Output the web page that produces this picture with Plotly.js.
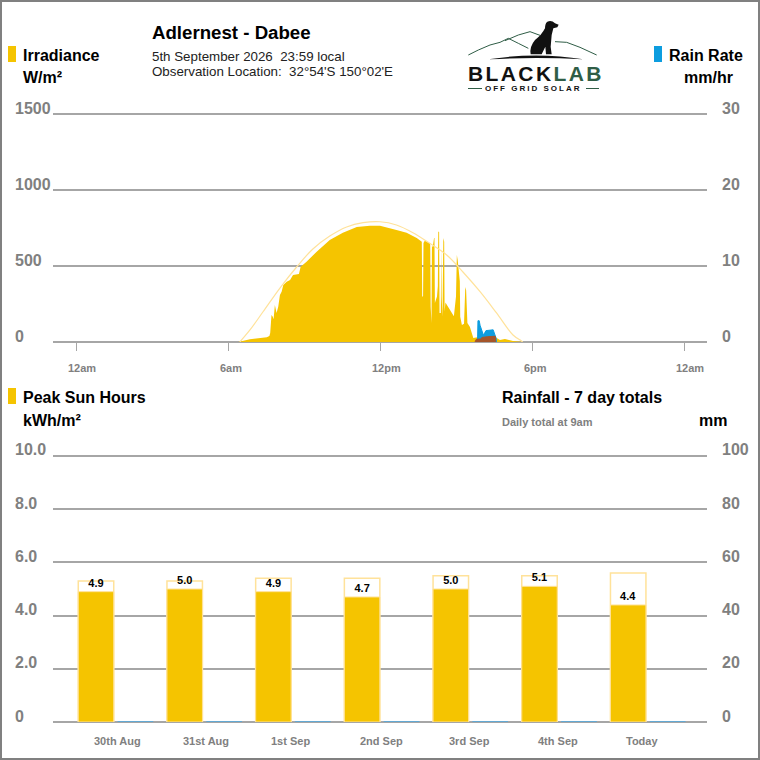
<!DOCTYPE html>
<html><head><meta charset="utf-8">
<script src="https://cdn.plot.ly/plotly-3.0.1.min.js"></script>
<style>html,body{margin:0;padding:0;background:#fff}#c{width:760px;height:760px}</style>
</head><body><div id="c"></div>
<script>
// minutes since midnight, W/m²
const irradianceMinutes=[384,412,452,458,460,461,463,466,468,471,475,479,483,487,491,499,507,514,528,532,546,570,601,632,665,696,720,759,783,807,819,820,822,823,826,838,839,840,842,843,845,848,849,850,855,857,858,860,861,864,865,866,868,870,872,873,875,882,890,895,900,902,904,907,909,910,914,919,922,924,927,933,941,957,980,992,1004,1016,1035,1055,1060];
const irradianceValues=[0,18,31,40,60,125,178,166,150,243,191,232,309,331,375,397,408,441,447,495,528,594,671,719,757,765,765,737,719,684,660,300,300,651,666,649,640,232,125,630,627,684,684,257,300,368,726,726,191,191,627,300,166,684,660,200,260,230,190,170,300,572,540,454,400,166,112,120,362,340,125,99,26,35,35,35,13,20,7,5,0];
const clearSkyMinutes=[388,412,443,483,523,561,601,641,680,720,759,798,838,878,917,957,996,1035,1055,1058];
const clearSkyValues=[0,79,199,355,495,612,697,757,785,791,770,719,649,572,459,331,191,46,7,0];
// mm/hr
const rainMinutes=[951,952,955,957,965,971,988,992,995,996];
const rainValues=[0,2.8,2.8,2.2,0.9,1.5,1.6,1.0,0.5,0];
const rainLowMinutes=[945,948,958,962,975,985,993,994];
const rainLowValues=[0,0.35,0.4,0.6,0.7,0.75,0.75,0];
const hourTicks=[0,360,720,1080,1440];
const hourLabels=["12am","6am","12pm","6pm","12am"];
const days=["30th Aug","31st Aug","1st Sep","2nd Sep","3rd Sep","4th Sep","Today"];
const peakSunHours=[4.9,5.0,4.9,4.7,5.0,5.1,4.4];
const clearSkyHours=[5.3,5.3,5.4,5.4,5.5,5.5,5.6];
const rainfall=[0,0,0,0,0,0,0];
const irrTicks=[0,500,1000,1500], irrText=["0","500","1000","1500"];
const rateTicks=[0,10,20,30], rateText=["0","10","20","30"];
const pshTicks=[0,2,4,6,8,10], pshText=["0","2.0","4.0","6.0","8.0","10.0"];
const mmTicks=[0,20,40,60,80,100], mmText=["0","20","40","60","80","100"];

const GOLD="#f5c400",BLUE="#0d9ddf",BROWN="#a5552a",PALE="#ffe29a",GREY="#808080",GRID="#a6a6a6",FONT="Liberation Sans, Arial, sans-serif";
const W=760;
const px=x=>x/W, py=y=>1-y/W;
const topPad=232/228, botPad=270/266; // head-room so the top gridline is not clipped

const traces=[
 {type:"scatter",mode:"lines",name:"Irradiance",x:irradianceMinutes,y:irradianceValues,xaxis:"x",yaxis:"y",fill:"tozeroy",fillcolor:GOLD,line:{color:GOLD,width:0}},
 {type:"scatter",mode:"lines",name:"Clear sky",x:clearSkyMinutes,y:clearSkyValues,xaxis:"x",yaxis:"y",line:{color:PALE,width:1.2,shape:"spline"}},
 {type:"scatter",mode:"lines",name:"Rain rate",x:rainMinutes,y:rainValues,xaxis:"x",yaxis:"y2",fill:"tozeroy",fillcolor:BLUE,line:{color:BLUE,width:1}},
 {type:"scatter",mode:"lines",name:"Rain rate low",x:rainLowMinutes,y:rainLowValues,xaxis:"x",yaxis:"y2",fill:"tozeroy",fillcolor:BROWN,line:{color:BROWN,width:1}},
 {type:"bar",name:"Clear sky hours",x:days,y:clearSkyHours,xaxis:"x2",yaxis:"y3",width:0.4,marker:{color:"#fff",line:{color:PALE,width:1.5}}},
 {type:"bar",name:"Peak Sun Hours",x:days,y:peakSunHours,xaxis:"x2",yaxis:"y3",width:0.4,marker:{color:GOLD,line:{color:PALE,width:1}},
  text:peakSunHours.map(v=>"<b>"+v.toFixed(1)+"</b>"),textposition:"outside",cliponaxis:false,textfont:{family:FONT,size:11,color:"#000"}},
 {type:"bar",name:"Rainfall",x:days,y:rainfall,xaxis:"x2",yaxis:"y4",width:0.4,offset:0.245,marker:{color:"#5ea8d6",line:{color:"#5ea8d6",width:1.5}}}
];

const note=(text,x,y,size,opts={})=>Object.assign({text,xref:"paper",yref:"paper",x:px(x-2),y:py(y),xanchor:"left",yanchor:"middle",showarrow:false,
  font:{family:FONT,size,color:"#000"},align:"left"},opts);
const annotations=[
 note("<b>Adlernest - Dabee</b>",152,32,18.67),
 note("5th September 2026&nbsp;&nbsp;23:59 local",152,56,13.33,{font:{family:FONT,size:13.33,color:"#222"}}),
 note("Observation Location:&nbsp;&nbsp;32°54'S 150°02'E",152,71,13.33,{font:{family:FONT,size:13.33,color:"#222"}}),
 note("<b>Irradiance</b>",23,55,16),note("<b>W/m²</b>",23,78,16),
 note("<b>Rain Rate</b>",669,55,16),note("<b>mm/hr</b>",684,78,16),
 note("<b>Peak Sun Hours</b>",23,397,16),note("<b>kWh/m²</b>",23,420,16),
 note("<b>Rainfall - 7 day totals</b>",502,397,16),
 note("<b>Daily total at 9am</b>",502,422,11,{font:{family:FONT,size:11,color:GREY}}),
 note("<b>mm</b>",699,420,16),
 note("<b>BLACK<span style=\"color:#2f5d46\">LAB</span></b>",468,74,21,{font:{family:FONT,size:21,color:"#111"}}),
 note("<b>OFF GRID SOLAR</b>",485,88,8,{font:{family:FONT,size:8,color:"#111"}})
];
const tickNote=(text,x,yref,v)=>({text:"<b>"+text+"</b>",xref:"paper",yref,x:px(x-2),y:v,yshift:6,xanchor:"left",yanchor:"middle",showarrow:false,font:{family:FONT,size:16,color:GREY}});
irrTicks.forEach((v,i)=>annotations.push(tickNote(irrText[i],15,"y",v)));
rateTicks.forEach((v,i)=>annotations.push(tickNote(rateText[i],722,"y2",v)));
pshTicks.forEach((v,i)=>annotations.push(tickNote(pshText[i],15,"y3",v)));
mmTicks.forEach((v,i)=>annotations.push(tickNote(mmText[i],722,"y4",v)));
hourTicks.forEach((t,i)=>annotations.push({text:"<b>"+hourLabels[i]+"</b>",xref:"x",yref:"paper",x:t,xshift:-10,y:py(368),xanchor:"left",yanchor:"middle",showarrow:false,font:{family:FONT,size:11,color:GREY}}));
days.forEach(d=>annotations.push({text:"<b>"+d+"</b>",xref:"x2",yref:"paper",x:d,xshift:-4,y:py(741),xanchor:"left",yanchor:"middle",showarrow:false,font:{family:FONT,size:11,color:GREY}}));

const rect=(x0,y0,x1,y1,c)=>({type:"rect",xref:"paper",yref:"paper",x0:px(x0),x1:px(x1),y0:py(y0),y1:py(y1),fillcolor:c,line:{width:0}});
const shapes=[
 rect(8,46,16,62,GOLD),rect(654,46,662,62,BLUE),rect(8,388,16,404,GOLD),
 {type:"rect",xref:"paper",yref:"paper",x0:px(1),x1:px(759),y0:py(759),y1:py(1),line:{color:GREY,width:2},fillcolor:"rgba(0,0,0,0)"},
 {type:"line",xref:"paper",yref:"paper",x0:px(468),x1:px(482),y0:py(88.5),y1:py(88.5),line:{color:"#2f5d46",width:1}},
 {type:"line",xref:"paper",yref:"paper",x0:px(586),x1:px(599),y0:py(88.5),y1:py(88.5),line:{color:"#2f5d46",width:1}}
];
days.forEach((d,i)=>shapes.push({type:"line",xref:"x2",yref:"y4",x0:i+0.245,x1:i+0.645,y0:rainfall[i],y1:rainfall[i],line:{color:"#5ea8d6",width:1.5},layer:"above"}));

const logo=`<svg xmlns="http://www.w3.org/2000/svg" width="540" height="270" viewBox="0 0 540 270"><g fill="none" stroke="#2f5d46" stroke-width="3"><path d="M85,135 L115,120 L150,105 L180,97 L205,85 L235,100 L265,115"/><path d="M195,92 L235,75 L270,65 L300,76"/><path d="M345,95 L380,97 L420,112 L470,135"/></g><path fill="#111" d="M145,148 Q290,125 430,148 Q290,140 145,148Z"/><path fill="#111" d="M322,35 Q335,30 345,40 L356,44 L352,52 L340,55 L335,75 L332,110 L335,133 L318,133 L316,110 L305,133 L272,133 Q268,110 285,90 Q305,75 315,55 Q315,40 322,35Z"/></svg>`;

const yCommon={fixedrange:true,tickmode:"array",ticks:"",showline:false,showticklabels:false};
const gridOn={showgrid:true,gridcolor:GRID,gridwidth:2,zeroline:true,zerolinecolor:GRID,zerolinewidth:2};
const layout={
 width:760,height:760,margin:{l:0,r:0,t:0,b:0},paper_bgcolor:"#fff",plot_bgcolor:"#fff",showlegend:false,barmode:"overlay",
 xaxis:{domain:[px(53),px(707)],range:[(53-76)/608*1440,(707-76)/608*1440],anchor:"y",tickmode:"array",tickvals:hourTicks,ticktext:hourLabels,showticklabels:false,ticks:"outside",ticklen:8,tickcolor:GRID,showgrid:false,zeroline:false,showline:false,fixedrange:true},
 yaxis:Object.assign({},yCommon,gridOn,{domain:[py(342),py(110)],range:[0,1500*topPad],tickvals:irrTicks,ticktext:irrText,anchor:"x",side:"left"}),
 yaxis2:Object.assign({},yCommon,{domain:[py(342),py(110)],range:[0,30*topPad],tickvals:rateTicks,ticktext:rateText,overlaying:"y",anchor:"x",side:"right",showgrid:false,zeroline:false}),
 xaxis2:{domain:[px(53),px(707)],range:[(53-96)/88.7,(707-96)/88.7],anchor:"y3",type:"category",categoryorder:"array",categoryarray:days,showticklabels:false,ticks:"",showgrid:false,zeroline:false,showline:false,fixedrange:true},
 yaxis3:Object.assign({},yCommon,gridOn,{domain:[py(722),py(452)],range:[0,10*botPad],tickvals:pshTicks,ticktext:pshText,anchor:"x2",side:"left"}),
 yaxis4:Object.assign({},yCommon,{domain:[py(722),py(452)],range:[0,100*botPad],tickvals:mmTicks,ticktext:mmText,overlaying:"y3",anchor:"x2",side:"right",showgrid:false,zeroline:false}),
 annotations,shapes,
 images:[{source:"data:image/svg+xml;utf8,"+encodeURIComponent(logo),xref:"paper",yref:"paper",x:px(440),y:py(10),sizex:180/W,sizey:90/W,xanchor:"left",yanchor:"top",sizing:"stretch",layer:"above"}]
};
Plotly.newPlot("c",traces,layout,{displayModeBar:false,staticPlot:true}).then(()=>{
 document.querySelectorAll(".annotation-text").forEach(t=>{
  const s=t.textContent;
  if(s==="BLACKLAB")t.style.letterSpacing="2.4px";
  if(s==="OFF GRID SOLAR")t.style.letterSpacing="2px";
 });
});
</script></body></html>
